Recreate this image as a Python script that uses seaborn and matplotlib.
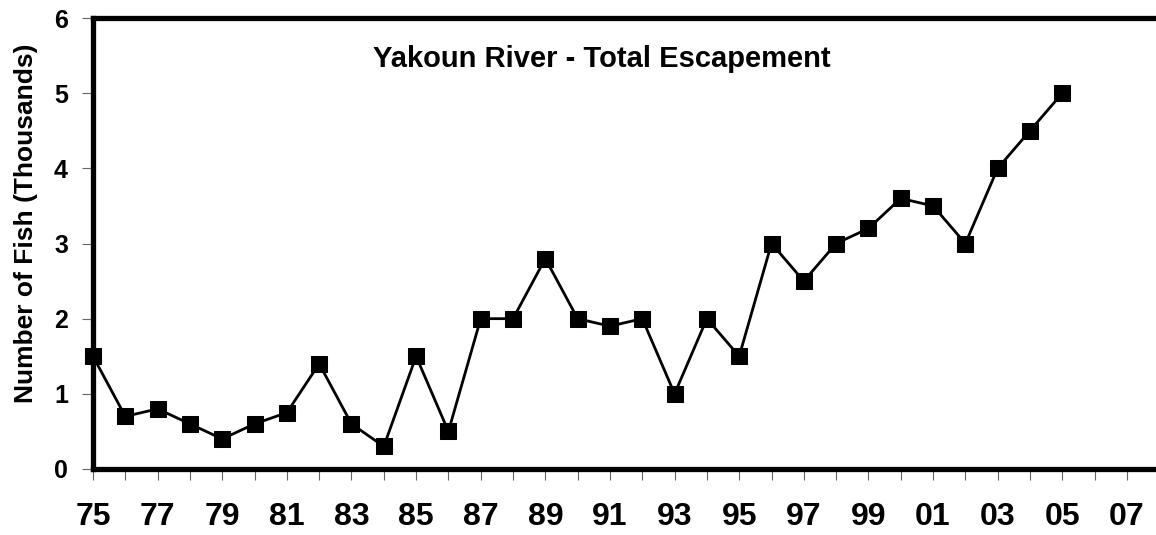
import pandas as pd
import matplotlib
matplotlib.use('Agg')
import matplotlib.pyplot as plt
import seaborn as sns

# Yakoun River escapement, thousands of fish
years = list(range(1975, 2006))
fish = [1.5, 0.7, 0.8, 0.6, 0.4, 0.6, 0.75, 1.4, 0.6, 0.3,
        1.5, 0.5, 2.0, 2.0, 2.8, 2.0, 1.9, 2.0, 1.0, 2.0,
        1.5, 3.0, 2.5, 3.0, 3.2, 3.6, 3.5, 3.0, 4.0, 4.5, 5.0]
tick_years = list(range(1975, 2008, 2))
tick_labels = [str(y)[-2:] for y in tick_years]

df = pd.DataFrame({'year': years, 'fish': fish})

sns.set_style('ticks')
plt.rcParams['font.family'] = ['Liberation Sans', 'DejaVu Sans']
plt.rcParams['text.color'] = 'black'
plt.rcParams['axes.labelcolor'] = 'black'
plt.rcParams['xtick.labelcolor'] = 'black'
plt.rcParams['ytick.labelcolor'] = 'black'

fig = plt.figure(figsize=(11.56, 5.35), dpi=100)
ax = fig.add_axes([93 / 1156, 1 - 469 / 535, (1156 - 93) / 1156, (469 - 18) / 535])

sns.lineplot(data=df, x='year', y='fish', ax=ax, color='black', linewidth=2.0,
             marker='s', markersize=12, markeredgecolor='black', clip_on=False)

ax.set_xlim(1975, 2007.9)
ax.set_ylim(0, 6)
ax.set_xticks(range(1975, 2008), minor=True)
ax.set_xticks(tick_years)
ax.set_xticklabels(tick_labels, fontsize=23, fontweight='bold', color='black')
ax.set_yticks(range(0, 7))
ax.set_yticklabels([str(v) for v in range(0, 7)], fontsize=18, fontweight='bold', color='black')
ax.tick_params(axis='x', which='both', length=8, width=0.8, color='#666666', pad=16)
ax.tick_params(axis='y', length=8, width=0.8, color='#666666', pad=10)

for side in ['left', 'top', 'bottom']:
    ax.spines[side].set_linewidth(3.8)
    ax.spines[side].set_color('black')
ax.spines['right'].set_visible(False)

ax.set_xlabel('')
ax.set_ylabel('Number of Fish (Thousands)', fontsize=19, fontweight='bold', color='black')
ax.yaxis.set_label_coords(-0.052, 0.545)
ax.text(0.479, 0.91, 'Yakoun River - Total Escapement', transform=ax.transAxes,
        ha='center', va='center', fontsize=21, fontweight='bold', color='black')

plt.savefig('out.png', dpi=100)
